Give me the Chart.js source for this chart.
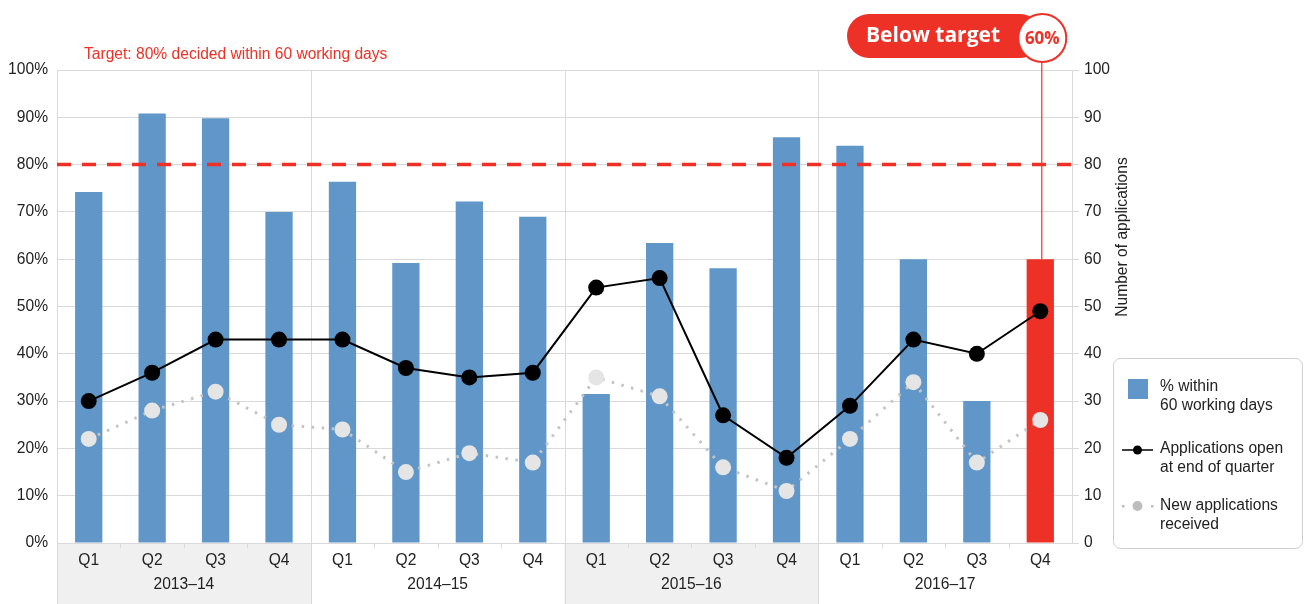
<!DOCTYPE html>
<html>
<head>
<meta charset="utf-8">
<script src="https://cdn.jsdelivr.net/npm/chart.js@4.4.0/dist/chart.umd.min.js"></script>
<style>
  html, body { margin: 0; padding: 0; background: #fff; }
</style>
</head>
<body>
<canvas id="myChart" width="1304" height="604"></canvas>
<script>
// data
const quarters = ['Q1', 'Q2', 'Q3', 'Q4', 'Q1', 'Q2', 'Q3', 'Q4', 'Q1', 'Q2', 'Q3', 'Q4', 'Q1', 'Q2', 'Q3', 'Q4'];
const years = ['2013–14', '2014–15', '2015–16', '2016–17'];
const pctWithin = [74.2, 90.8, 89.8, 70, 76.4, 59.2, 72.2, 69, 31.5, 63.4, 58.1, 85.8, 84, 60, 30, 60];
const openAtEnd = [30, 36, 43, 43, 43, 37, 35, 36, 54, 56, 27, 18, 29, 43, 40, 49];
const newApps = [22, 28, 32, 25, 24, 15, 19, 17, 35, 31, 16, 11, 22, 34, 17, 26];
const targetPct = 80;
const calloutText = 'Below target';
const calloutValue = '60%';

const FONT = "'Liberation Sans', Arial, sans-serif";
const BLUE = '#6097c8';
const RED = '#ee3126';
const GRID = '#d9d9d9';

const barColors = pctWithin.map((v, i) => i === pctWithin.length - 1 ? RED : BLUE);

const ctx = document.getElementById('myChart').getContext('2d');

// extra drawing: bands, separators, target line, callout, legend
const decorations = {
  id: 'decorations',
  beforeDraw(chart) {
    const c = chart.ctx;
    const a = chart.chartArea;
    const step = (a.right - a.left) / quarters.length;
    c.save();
    c.fillStyle = '#fff';
    c.fillRect(0, 0, chart.width, chart.height);
    // grey bands under axis for alternate years
    c.fillStyle = '#f0f0f0';
    years.forEach((y, g) => {
      if (g % 2 === 0) {
        c.fillRect(a.left + step * 4 * g, a.bottom, step * 4, chart.height - a.bottom);
      }
    });
    // group separators
    c.strokeStyle = GRID;
    c.lineWidth = 1;
    for (let g = 0; g <= years.length; g++) {
      const px = Math.round(a.left + step * 4 * g) + 0.5;
      c.beginPath();
      c.moveTo(px, a.top);
      c.lineTo(px, g === years.length ? a.bottom : chart.height);
      c.stroke();
    }
    // small ticks between quarters
    for (let i = 1; i < quarters.length; i++) {
      if (i % 4 === 0) continue;
      const px = Math.round(a.left + step * i) + 0.5;
      c.beginPath();
      c.moveTo(px, a.bottom);
      c.lineTo(px, a.bottom + 5);
      c.stroke();
    }
    c.restore();
  },
  afterDatasetsDraw(chart) {
    const c = chart.ctx;
    const a = chart.chartArea;
    const xs = chart.scales.x;
    const ys = chart.scales.y;
    c.save();

    // target line
    const ty = ys.getPixelForValue(targetPct);
    c.strokeStyle = RED;
    c.lineWidth = 3.5;
    c.setLineDash([14, 11]);
    c.beginPath();
    c.moveTo(a.left, ty);
    c.lineTo(a.right, ty);
    c.stroke();
    c.setLineDash([]);

    c.fillStyle = RED;
    c.font = '15.6px ' + FONT;
    c.textAlign = 'left';
    c.textBaseline = 'middle';
    c.fillText('Target: 80% decided within 60 working days', 84, 55);

    // callout
    const last = pctWithin.length - 1;
    const bx = xs.getPixelForValue(last);
    const by = ys.getPixelForValue(pctWithin[last]);
    const cx = bx + 2, cy = 38, r = 24;
    c.strokeStyle = RED;
    c.lineWidth = 1.2;
    c.beginPath();
    c.moveTo(bx + 1.5, cy + r);
    c.lineTo(bx + 1.5, by);
    c.stroke();

    c.fillStyle = RED;
    c.beginPath();
    c.roundRect(847, 14, cx - 847, 44, 22);
    c.fill();
    c.fillStyle = '#fff';
    c.font = "bold 21px 'Open Sans', " + FONT;
    c.textAlign = 'center';
    c.fillText(calloutText, 933, 36);

    c.beginPath();
    c.arc(cx, cy, r, 0, Math.PI * 2);
    c.fillStyle = '#fff';
    c.fill();
    c.lineWidth = 2;
    c.strokeStyle = RED;
    c.stroke();
    c.fillStyle = RED;
    c.font = "bold 17px 'Open Sans', " + FONT;
    c.fillText(calloutValue, cx, cy + 1);

    c.restore();
  },
  afterDraw(chart) {
    const c = chart.ctx;
    const a = chart.chartArea;
    const step = (a.right - a.left) / quarters.length;
    c.save();
    c.fillStyle = '#222';
    c.font = '15.6px ' + FONT;
    c.textAlign = 'center';
    c.textBaseline = 'middle';
    years.forEach((y, g) => {
      c.fillText(y, a.left + step * (4 * g + 2), 585);
    });

    // right axis title
    c.save();
    c.translate(1123, 237);
    c.rotate(-Math.PI / 2);
    c.fillText('Number of applications', 0, 0);
    c.restore();

    // legend
    c.strokeStyle = '#cfcfcf';
    c.lineWidth = 1;
    c.beginPath();
    c.roundRect(1113.5, 358.5, 189, 190, 7);
    c.stroke();

    c.fillStyle = BLUE;
    c.fillRect(1128, 379, 20, 20);

    c.strokeStyle = '#000';
    c.lineWidth = 1.5;
    c.beginPath();
    c.moveTo(1122, 450);
    c.lineTo(1153, 450);
    c.stroke();
    c.fillStyle = '#000';
    c.beginPath();
    c.arc(1137.5, 450, 4.5, 0, Math.PI * 2);
    c.fill();

    c.fillStyle = '#bdbdbd';
    [1123, 1152].forEach(px => c.fillRect(px - 1, 506 - 1, 2.5, 2.5));
    c.beginPath();
    c.arc(1137.5, 506, 5, 0, Math.PI * 2);
    c.fill();

    c.fillStyle = '#222';
    c.textAlign = 'left';
    c.font = '15.6px ' + FONT;
    c.fillText('% within', 1160, 387);
    c.fillText('60 working days', 1160, 406);
    c.fillText('Applications open', 1160, 449);
    c.fillText('at end of quarter', 1160, 468);
    c.fillText('New applications', 1160, 506);
    c.fillText('received', 1160, 525);
    c.restore();
  }
};

const myChart = new Chart(ctx, {
  type: 'bar',
  data: {
    labels: quarters,
    datasets: [
      {
        type: 'line',
        label: 'Applications open at end of quarter',
        data: openAtEnd,
        yAxisID: 'y1',
        borderColor: '#000',
        borderWidth: 2,
        pointRadius: 8,
        pointBackgroundColor: '#000',
        pointBorderWidth: 0,
        tension: 0,
        order: 1
      },
      {
        type: 'line',
        label: 'New applications received',
        data: newApps,
        yAxisID: 'y1',
        borderColor: '#c4c4c4',
        borderWidth: 3,
        borderDash: [2.5, 7.5],
        pointRadius: 8,
        pointBackgroundColor: '#e5e5e5',
        pointBorderWidth: 0,
        tension: 0,
        order: 2
      },
      {
        label: '% within 60 working days',
        data: pctWithin,
        yAxisID: 'y',
        backgroundColor: barColors,
        categoryPercentage: 1,
        barPercentage: 0.43,
        order: 3
      }
    ]
  },
  options: {
    responsive: false,
    animation: false,
    layout: { padding: { top: 70, left: 0, right: 0, bottom: 0 } },
    plugins: {
      legend: { display: false },
      tooltip: { enabled: false }
    },
    scales: {
      x: {
        offset: true,
        grid: { display: false },
        border: { color: GRID },
        ticks: { color: '#222', font: { family: FONT, size: 15.6 }, padding: 0 },
        afterFit: s => { s.height = 61; }
      },
      y: {
        position: 'left',
        min: 0,
        max: 100,
        ticks: {
          stepSize: 10,
          color: '#222',
          font: { family: FONT, size: 15.6 },
          padding: 9,
          callback: v => v + '%'
        },
        grid: { color: GRID, drawTicks: false },
        border: { display: false },
        afterFit: s => { s.width = 57; }
      },
      y1: {
        position: 'right',
        min: 0,
        max: 100,
        ticks: {
          stepSize: 10,
          color: '#222',
          font: { family: FONT, size: 15.6 },
          padding: 5
        },
        grid: { drawOnChartArea: false, color: GRID, tickLength: 7 },
        border: { color: GRID },
        afterFit: s => { s.width = 232; }
      }
    }
  },
  plugins: [decorations]
});
</script>
</body>
</html>
